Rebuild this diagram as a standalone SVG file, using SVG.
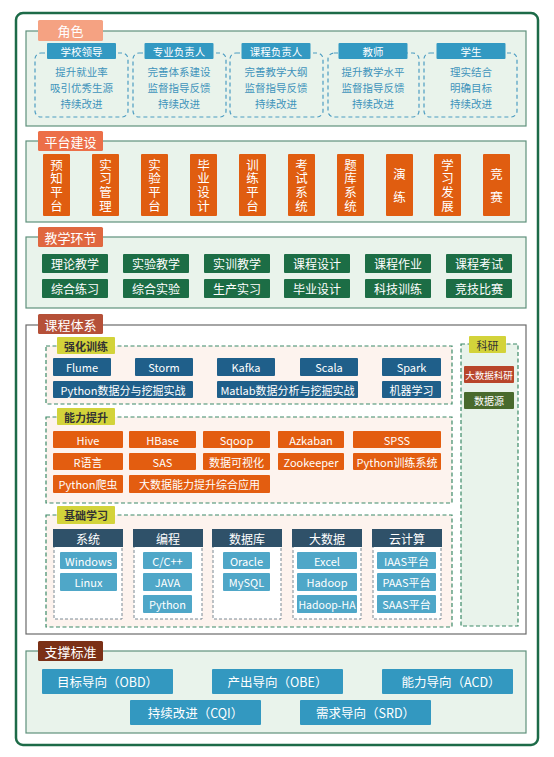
<svg xmlns="http://www.w3.org/2000/svg" width="554" height="757" viewBox="0 0 554 757">
<style>
text{font-family:"Noto Sans CJK SC","Noto Sans",sans-serif;text-anchor:middle;dominant-baseline:central}
.panel{fill:#e9f3eb;stroke:#5f917c;stroke-width:1.2}
.ttl{fill:#fff;font-size:13px}
.rh{fill:#3399c2;rx:1}
.rht{fill:#fff;font-size:10.5px}
.rd{fill:none;stroke:#4d9dc2;stroke-width:1.2;stroke-dasharray:4 3}
.ri{fill:#3f93bb;font-size:10.5px}
.pb{fill:#e05d10}
.pt{fill:#fff;font-size:12.5px;writing-mode:vertical-rl;text-orientation:upright;letter-spacing:1.2px}
.pt2{fill:#fff;font-size:12.5px;writing-mode:vertical-rl;text-orientation:upright;letter-spacing:10.5px}
.tb{fill:#1c6d45}
.tt{fill:#fff;font-size:12px}
.grp{fill:#fdf3ee;stroke:#3d8a68;stroke-width:1.2;stroke-dasharray:4 2.5}
.yl{fill:#d3d33a}
.ylt{fill:#333;font-size:11px;font-weight:bold}
.bb{fill:#1f5f8a}
.ob{fill:#e35d10}
.wt{fill:#fff;font-size:11px}
.ch{fill:#2f5169}
.cd{fill:#fff;stroke:#7a8a94;stroke-width:1;stroke-dasharray:3 2}
.lb{fill:#4fa7c8}
.sb{fill:#3398c0}
</style>
<rect x="16" y="13" width="522" height="732" rx="7" fill="#fff" stroke="#1d6b48" stroke-width="2.5"/>

<g id="roles">
<rect class="panel" x="26" y="31" width="500" height="95"/>
<rect x="38" y="20" width="65" height="21" rx="1.5" fill="#f5a282"/>
<text class="ttl" x="70.5" y="30.5">角色</text>
<g id="role-1">
<rect class="rd" x="35" y="53" width="93" height="64" rx="6"/>
<rect class="rh" x="47" y="43" width="69" height="16"/>
<text class="rht" x="81.5" y="51">学校领导</text>
<text class="ri" x="81.5" y="71">提升就业率</text>
<text class="ri" x="81.5" y="87">吸引优秀生源</text>
<text class="ri" x="81.5" y="103">持续改进</text>
</g>
<g id="role-2">
<rect class="rd" x="133" y="53" width="93" height="64" rx="6"/>
<rect class="rh" x="144.5" y="43" width="69" height="16"/>
<text class="rht" x="179" y="51">专业负责人</text>
<text class="ri" x="179" y="71">完善体系建设</text>
<text class="ri" x="179" y="87">监督指导反馈</text>
<text class="ri" x="179" y="103">持续改进</text>
</g>
<g id="role-3">
<rect class="rd" x="230" y="53" width="93" height="64" rx="6"/>
<rect class="rh" x="241.5" y="43" width="69" height="16"/>
<text class="rht" x="276" y="51">课程负责人</text>
<text class="ri" x="276" y="71">完善教学大纲</text>
<text class="ri" x="276" y="87">监督指导反馈</text>
<text class="ri" x="276" y="103">持续改进</text>
</g>
<g id="role-4">
<rect class="rd" x="328" y="53" width="91" height="64" rx="6"/>
<rect class="rh" x="338.5" y="43" width="69" height="16"/>
<text class="rht" x="373" y="51">教师</text>
<text class="ri" x="373" y="71">提升教学水平</text>
<text class="ri" x="373" y="87">监督指导反馈</text>
<text class="ri" x="373" y="103">持续改进</text>
</g>
<g id="role-5">
<rect class="rd" x="424" y="53" width="93" height="64" rx="6"/>
<rect class="rh" x="436.5" y="43" width="69" height="16"/>
<text class="rht" x="471" y="51">学生</text>
<text class="ri" x="471" y="71">理实结合</text>
<text class="ri" x="471" y="87">明确目标</text>
<text class="ri" x="471" y="103">持续改进</text>
</g>
</g>

<g id="platform">
<rect class="panel" x="26" y="141" width="500" height="81"/>
<rect x="38" y="131" width="65" height="20" rx="1.5" fill="#ec6f48"/>
<text class="ttl" x="70.5" y="141">平台建设</text>
<g id="p1"><rect class="pb" x="43" y="154" width="27" height="62" rx="1"/><text class="pt" x="56.5" y="186">预知平台</text></g>
<g id="p2"><rect class="pb" x="92" y="154" width="27" height="62" rx="1"/><text class="pt" x="105.5" y="186">实习管理</text></g>
<g id="p3"><rect class="pb" x="141" y="154" width="27" height="62" rx="1"/><text class="pt" x="154.5" y="186">实验平台</text></g>
<g id="p4"><rect class="pb" x="190" y="154" width="27" height="62" rx="1"/><text class="pt" x="203.5" y="186">毕业设计</text></g>
<g id="p5"><rect class="pb" x="239" y="154" width="27" height="62" rx="1"/><text class="pt" x="252.5" y="186">训练平台</text></g>
<g id="p6"><rect class="pb" x="288" y="154" width="27" height="62" rx="1"/><text class="pt" x="301.5" y="186">考试系统</text></g>
<g id="p7"><rect class="pb" x="337" y="154" width="27" height="62" rx="1"/><text class="pt" x="350.5" y="186">题库系统</text></g>
<g id="p8"><rect class="pb" x="386" y="154" width="27" height="62" rx="1"/><text class="pt2" x="399.5" y="191">演练</text></g>
<g id="p9"><rect class="pb" x="434" y="154" width="27" height="62" rx="1"/><text class="pt" x="447.5" y="186">学习发展</text></g>
<g id="p10"><rect class="pb" x="483" y="154" width="27" height="62" rx="1"/><text class="pt2" x="496.5" y="191">竞赛</text></g>
</g>

<g id="teaching">
<rect class="panel" x="26" y="237" width="500" height="71"/>
<rect x="38" y="227" width="65" height="20" rx="1.5" fill="#e0673f"/>
<text class="ttl" x="70.5" y="237">教学环节</text>
<g id="t1"><rect class="tb" x="42" y="254" width="66" height="19" rx="1"/><text class="tt" x="75" y="263.5">理论教学</text></g>
<g id="t2"><rect class="tb" x="123" y="254" width="66" height="19" rx="1"/><text class="tt" x="156" y="263.5">实验教学</text></g>
<g id="t3"><rect class="tb" x="204" y="254" width="66" height="19" rx="1"/><text class="tt" x="237" y="263.5">实训教学</text></g>
<g id="t4"><rect class="tb" x="284" y="254" width="66" height="19" rx="1"/><text class="tt" x="317" y="263.5">课程设计</text></g>
<g id="t5"><rect class="tb" x="365" y="254" width="66" height="19" rx="1"/><text class="tt" x="398" y="263.5">课程作业</text></g>
<g id="t6"><rect class="tb" x="446" y="254" width="66" height="19" rx="1"/><text class="tt" x="479" y="263.5">课程考试</text></g>
<g id="t7"><rect class="tb" x="42" y="279" width="66" height="19" rx="1"/><text class="tt" x="75" y="288.5">综合练习</text></g>
<g id="t8"><rect class="tb" x="123" y="279" width="66" height="19" rx="1"/><text class="tt" x="156" y="288.5">综合实验</text></g>
<g id="t9"><rect class="tb" x="204" y="279" width="66" height="19" rx="1"/><text class="tt" x="237" y="288.5">生产实习</text></g>
<g id="t10"><rect class="tb" x="284" y="279" width="66" height="19" rx="1"/><text class="tt" x="317" y="288.5">毕业设计</text></g>
<g id="t11"><rect class="tb" x="365" y="279" width="66" height="19" rx="1"/><text class="tt" x="398" y="288.5">科技训练</text></g>
<g id="t12"><rect class="tb" x="446" y="279" width="66" height="19" rx="1"/><text class="tt" x="479" y="288.5">竞技比赛</text></g>
</g>

<g id="course">
<rect x="26" y="325" width="500" height="309" fill="#fff" stroke="#6b6b6b" stroke-width="1.2"/>
<rect x="38" y="314" width="65" height="20" rx="1.5" fill="#b55038"/>
<text class="ttl" x="70.5" y="324">课程体系</text>

<g id="intensive">
<rect class="grp" x="46" y="346" width="406" height="58"/>
<rect class="yl" x="57" y="337" width="58" height="17" rx="1"/>
<text class="ylt" x="86" y="345.5">强化训练</text>
<g><rect class="bb" x="53" y="358" width="58" height="18" rx="1"/><text class="wt" x="82" y="367">Flume</text></g>
<g><rect class="bb" x="135" y="358" width="58" height="18" rx="1"/><text class="wt" x="164" y="367">Storm</text></g>
<g><rect class="bb" x="217" y="358" width="58" height="18" rx="1"/><text class="wt" x="246" y="367">Kafka</text></g>
<g><rect class="bb" x="300" y="358" width="58" height="18" rx="1"/><text class="wt" x="329" y="367">Scala</text></g>
<g><rect class="bb" x="382" y="358" width="59" height="18" rx="1"/><text class="wt" x="411.5" y="367">Spark</text></g>
<g><rect class="bb" x="53" y="381" width="140" height="17" rx="1"/><text class="wt" x="123" y="389.5">Python数据分与挖掘实战</text></g>
<g><rect class="bb" x="217" y="381" width="141" height="17" rx="1"/><text class="wt" x="287.5" y="389.5">Matlab数据分析与挖掘实战</text></g>
<g><rect class="bb" x="382" y="381" width="59" height="17" rx="1"/><text class="wt" x="411.5" y="389.5">机器学习</text></g>
</g>

<g id="ability">
<rect class="grp" x="46" y="417" width="406" height="86"/>
<rect class="yl" x="57" y="408" width="58" height="17" rx="1"/>
<text class="ylt" x="86" y="416.5">能力提升</text>
<g><rect class="ob" x="53" y="431" width="70" height="17" rx="1"/><text class="wt" x="88" y="439.5">Hive</text></g>
<g><rect class="ob" x="129" y="431" width="67" height="17" rx="1"/><text class="wt" x="162.5" y="439.5">HBase</text></g>
<g><rect class="ob" x="203" y="431" width="67" height="17" rx="1"/><text class="wt" x="236.5" y="439.5">Sqoop</text></g>
<g><rect class="ob" x="278" y="431" width="66" height="17" rx="1"/><text class="wt" x="311" y="439.5">Azkaban</text></g>
<g><rect class="ob" x="353" y="431" width="88" height="17" rx="1"/><text class="wt" x="397" y="439.5">SPSS</text></g>
<g><rect class="ob" x="53" y="453" width="70" height="17" rx="1"/><text class="wt" x="88" y="461.5">R语言</text></g>
<g><rect class="ob" x="129" y="453" width="67" height="17" rx="1"/><text class="wt" x="162.5" y="461.5">SAS</text></g>
<g><rect class="ob" x="203" y="453" width="67" height="17" rx="1"/><text class="wt" x="236.5" y="461.5">数据可视化</text></g>
<g><rect class="ob" x="278" y="453" width="66" height="17" rx="1"/><text class="wt" x="311" y="461.5">Zookeeper</text></g>
<g><rect class="ob" x="353" y="453" width="88" height="17" rx="1"/><text class="wt" x="397" y="461.5">Python训练系统</text></g>
<g><rect class="ob" x="53" y="475" width="70" height="18" rx="1"/><text class="wt" x="88" y="484">Python爬虫</text></g>
<g><rect class="ob" x="129" y="475" width="141" height="18" rx="1"/><text class="wt" x="199.5" y="484">大数据能力提升综合应用</text></g>
</g>

<g id="basic">
<rect class="grp" x="46" y="515" width="406" height="112"/>
<rect class="yl" x="57" y="506" width="58" height="18" rx="1"/>
<text class="ylt" x="86" y="515">基础学习</text>
<g id="c-sys">
<rect class="cd" x="54" y="546" width="68" height="73"/>
<rect class="ch" x="53" y="529" width="70" height="18"/>
<text class="wt" x="88" y="538" style="font-size:12px">系统</text>
<rect class="lb" x="60" y="552" width="57" height="17" rx="1"/><text class="wt" x="88.5" y="560.5">Windows</text>
<rect class="lb" x="60" y="573" width="57" height="18" rx="1"/><text class="wt" x="88.5" y="582">Linux</text>
</g>
<g id="c-prog">
<rect class="cd" x="134" y="546" width="68" height="73"/>
<rect class="ch" x="133" y="529" width="70" height="18"/>
<text class="wt" x="168" y="538" style="font-size:12px">编程</text>
<rect class="lb" x="143" y="552" width="49" height="17" rx="1"/><text class="wt" x="167.5" y="560.5">C/C++</text>
<rect class="lb" x="143" y="573" width="49" height="18" rx="1"/><text class="wt" x="167.5" y="582">JAVA</text>
<rect class="lb" x="143" y="595" width="49" height="18" rx="1"/><text class="wt" x="167.5" y="604">Python</text>
</g>
<g id="c-db">
<rect class="cd" x="213" y="546" width="68" height="73"/>
<rect class="ch" x="212" y="529" width="70" height="18"/>
<text class="wt" x="247" y="538" style="font-size:12px">数据库</text>
<rect class="lb" x="223" y="552" width="47" height="17" rx="1"/><text class="wt" x="246.5" y="560.5">Oracle</text>
<rect class="lb" x="223" y="573" width="47" height="18" rx="1"/><text class="wt" x="246.5" y="582">MySQL</text>
</g>
<g id="c-bd">
<rect class="cd" x="293" y="546" width="68" height="73"/>
<rect class="ch" x="292" y="529" width="70" height="18"/>
<text class="wt" x="327" y="538" style="font-size:12px">大数据</text>
<rect class="lb" x="297" y="552" width="60" height="17" rx="1"/><text class="wt" x="327" y="560.5">Excel</text>
<rect class="lb" x="297" y="573" width="60" height="18" rx="1"/><text class="wt" x="327" y="582">Hadoop</text>
<rect class="lb" x="297" y="595" width="60" height="18" rx="1"/><text class="wt" x="327" y="604" style="font-size:10.5px">Hadoop-HA</text>
</g>
<g id="c-cloud">
<rect class="cd" x="373" y="546" width="68" height="73"/>
<rect class="ch" x="372" y="529" width="70" height="18"/>
<text class="wt" x="407" y="538" style="font-size:12px">云计算</text>
<rect class="lb" x="377" y="552" width="59" height="17" rx="1"/><text class="wt" x="406.5" y="560.5">IAAS平台</text>
<rect class="lb" x="377" y="573" width="59" height="18" rx="1"/><text class="wt" x="406.5" y="582">PAAS平台</text>
<rect class="lb" x="377" y="595" width="59" height="18" rx="1"/><text class="wt" x="406.5" y="604">SAAS平台</text>
</g>
</g>

<g id="research">
<rect x="461" y="344" width="57" height="282" fill="#e9f3eb" stroke="#3d8a68" stroke-width="1.2" stroke-dasharray="4 2.5"/>
<rect class="yl" x="469" y="336" width="37" height="17" rx="1"/>
<text class="ylt" x="487.5" y="344.5" style="font-weight:normal">科研</text>
<rect x="464" y="366" width="50" height="17" rx="1" fill="#b8452a"/><text class="wt" x="489" y="374.5" style="font-size:9.5px">大数据科研</text>
<rect x="464" y="392" width="50" height="17" rx="1" fill="#496a2d"/><text class="wt" x="489" y="400.5" style="font-size:10px">数据源</text>
</g>
</g>

<g id="support">
<rect class="panel" x="26" y="651" width="500" height="82"/>
<rect x="38" y="641" width="65" height="20" rx="1.5" fill="#7b3016"/>
<text class="ttl" x="70.5" y="651">支撑标准</text>
<g><rect class="sb" x="42" y="669" width="131" height="25" rx="1"/><text class="tt" x="107.5" y="681.5" style="font-size:12.5px">目标导向（OBD）</text></g>
<g><rect class="sb" x="212" y="669" width="131" height="25" rx="1"/><text class="tt" x="277.5" y="681.5" style="font-size:12.5px">产出导向（OBE）</text></g>
<g><rect class="sb" x="382" y="669" width="131" height="25" rx="1"/><text class="tt" x="451" y="681.5" style="font-size:12.5px">能力导向（ACD）</text></g>
<g><rect class="sb" x="130" y="700" width="131" height="25" rx="1"/><text class="tt" x="195.5" y="712.5" style="font-size:12.5px">持续改进（CQI）</text></g>
<g><rect class="sb" x="300" y="700" width="131" height="25" rx="1"/><text class="tt" x="365.5" y="712.5" style="font-size:12.5px">需求导向（SRD）</text></g>
</g>
<g id="connectors"/>
</svg>
